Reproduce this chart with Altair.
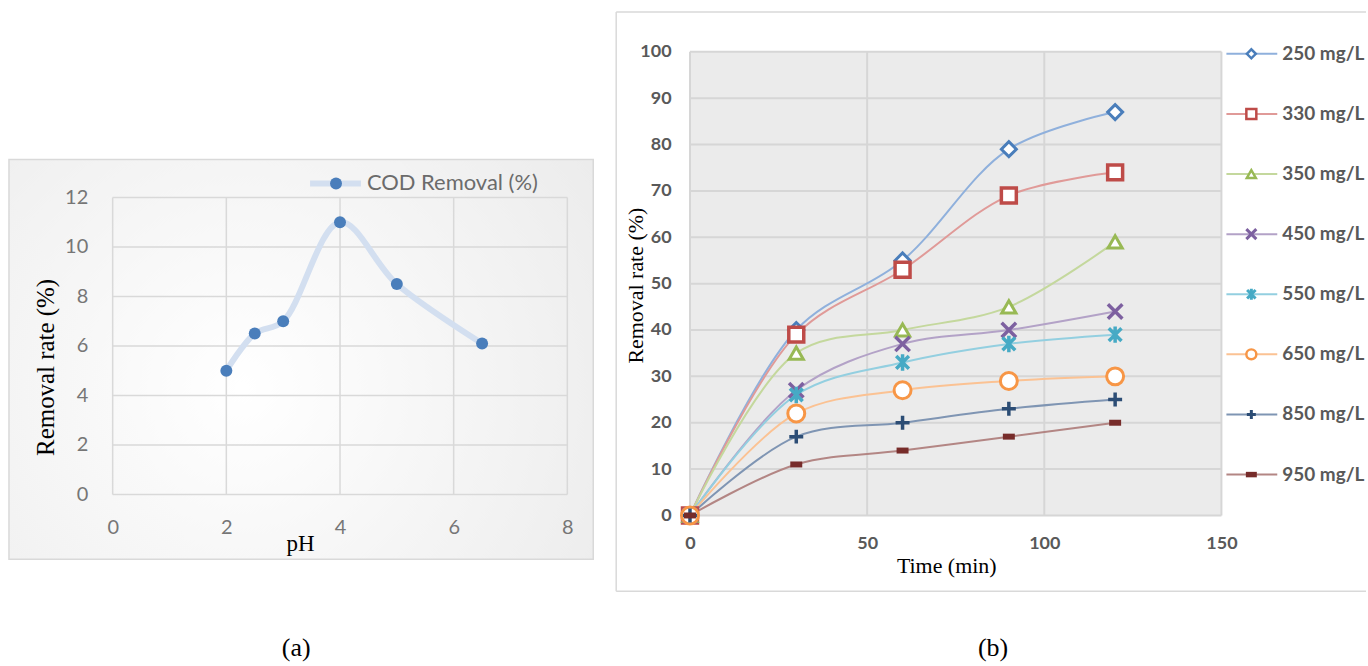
import altair as alt
import pandas as pd

# ---------------- Panel (a): COD removal vs pH ----------------
ph_values = [2, 2.5, 3, 4, 5, 6.5]
cod_removal = [5, 6.5, 7, 11, 8.5, 6.1]
a_x_ticks = [0, 2, 4, 6, 8]
a_y_ticks = [0, 2, 4, 6, 8, 10, 12]
a_series_name = "COD Removal (%)"
a_x_title = "pH"
a_y_title = "Removal rate (%)"
a_caption = "(a)"

# ---------------- Panel (b): removal rate vs time ----------------
time_min = [0, 30, 60, 90, 120]
conc_labels = ["250 mg/L", "330 mg/L", "350 mg/L", "450 mg/L",
               "550 mg/L", "650 mg/L", "850 mg/L", "950 mg/L"]
rate_250 = [0, 40, 55, 79, 87]
rate_330 = [0, 39, 53, 69, 74]
rate_350 = [0, 35, 40, 45, 59]
rate_450 = [0, 27, 37, 40, 44]
rate_550 = [0, 26, 33, 37, 39]
rate_650 = [0, 22, 27, 29, 30]
rate_850 = [0, 17, 20, 23, 25]
rate_950 = [0, 11, 14, 17, 20]
b_x_ticks = [0, 50, 100, 150]
b_y_ticks = [0, 10, 20, 30, 40, 50, 60, 70, 80, 90, 100]
b_x_title = "Time (min)"
b_y_title = "Removal rate (%)"
b_caption = "(b)"

# ---------------- styles ----------------
marker_colors = ["#4a7ebb", "#be4b48", "#98b954", "#7d60a0",
                 "#46aac5", "#f79646", "#2c4d75", "#772c2a"]
line_colors = ["#8fb0dc", "#e09a98", "#c4d89d", "#b3a2c7",
               "#93cfe0", "#fbc293", "#7f95b3", "#b38684"]
X_PATH = "M-1,-1L1,1M-1,1L1,-1"
AST_PATH = "M-0.85,-0.85L0.85,0.85M-0.85,0.85L0.85,-0.85M0,-1.1L0,1.1"
PLUS_PATH = "M-1,0L1,0M0,-1L0,1"
DASH_PATH = "M-1,-0.5L1,-0.5L1,0.5L-1,0.5Z"
shapes = ["diamond", "square", "triangle-up", X_PATH, AST_PATH, "circle", PLUS_PATH, DASH_PATH]
fills = ["white", "white", "white", "transparent", "transparent", "white", "transparent", "#772c2a"]
sizes = [225, 225, 200, 210, 225, 289, 196, 144]
stroke_ws = [3, 3.5, 3, 3.5, 3.5, 3, 3.5, 0]
leg_sizes = [81, 100, 81, 100, 100, 100, 81, 121]
leg_sw = [2.5, 2.5, 2.5, 3, 3, 2.5, 3, 0]

SANS = "Lato"
SERIF = "Liberation Serif"

one = pd.DataFrame({"k": [0]})

# ======================= Panel (a) =======================
# Panel (a) shares the row origin with panel (b); its plot occupies y 146..444 of a 465-high view
WA, HA = 456, 465
A_TOP, A_BOT = 146, 444
dfA = pd.DataFrame({"pH": ph_values, "cod": cod_removal})
sA_x = alt.Scale(domain=[0, 8], nice=False, zero=False)
sA_y = alt.Scale(domain=[0, 12], nice=False, range=[A_BOT, A_TOP])

axA = alt.Axis(values=a_x_ticks, grid=False, domain=False, ticks=False, zindex=1, labelFlush=False,
               labelFont=SANS, labelFontSize=20, labelColor="#767676", labelPadding=2,
               title=a_x_title, titleFont=SERIF, titleFontSize=23, titleFontWeight="normal",
               titleColor="black", titleX=188, titleY=28, titleAlign="center",
               titleBaseline="middle")
ayA = alt.Axis(values=a_y_ticks, grid=False, domain=False, ticks=False, zindex=1, labelFlush=False,
               labelFont=SANS, labelFontSize=20, labelColor="#767676", labelPadding=25,
               title=a_y_title, titleFont=SERIF, titleFontSize=25, titleFontWeight="normal",
               titleColor="black", titleX=-67, titleY=316, titleAngle=270,
               titleAlign="center", titleBaseline="middle")

a_spacer = alt.Chart(one).mark_rule(color="white", strokeWidth=1).encode(
    x=alt.value(-112), x2=alt.value(-111), y=alt.value(200))
grad = {"gradient": "radial", "x1": 0.4, "y1": 0.55, "x2": 0.4, "y2": 0.55,
        "r1": 0, "r2": 0.75,
        "stops": [{"offset": 0, "color": "#ffffff"}, {"offset": 1, "color": "#ebebeb"}]}
a_box = alt.Chart(one).mark_rect(fill=grad, stroke="#d9d9d9", strokeWidth=1.5).encode(
    x=alt.value(-104), x2=alt.value(482), y=alt.value(108), y2=alt.value(509))
a_gx = alt.Chart(pd.DataFrame({"v": a_x_ticks})).mark_rule(color="#d9d9d9", strokeWidth=1.5).encode(
    x=alt.X("v:Q", scale=sA_x, axis=axA), y=alt.value(A_TOP), y2=alt.value(A_BOT))
a_gy = alt.Chart(pd.DataFrame({"v": a_y_ticks})).mark_rule(color="#d9d9d9", strokeWidth=1.5).encode(
    y=alt.Y("v:Q", scale=sA_y, axis=ayA), x=alt.value(0), x2=alt.value(WA))
a_line = alt.Chart(dfA).mark_line(interpolate="catmull-rom", color="#d3dff0",
                                  strokeWidth=6, strokeCap="round").encode(
    x=alt.X("pH:Q", scale=sA_x, axis=axA), y=alt.Y("cod:Q", scale=sA_y, axis=ayA))
a_pts = alt.Chart(dfA).mark_circle(color="#4a7ebb", size=144, opacity=1).encode(
    x=alt.X("pH:Q", scale=sA_x, axis=axA), y=alt.Y("cod:Q", scale=sA_y, axis=ayA))
a_leg_line = alt.Chart(one).mark_rule(color="#d3dff0", strokeWidth=6).encode(
    x=alt.value(198), x2=alt.value(249), y=alt.value(132))
a_leg_pt = alt.Chart(one).mark_circle(color="#4a7ebb", size=144, opacity=1).encode(
    x=alt.value(224), y=alt.value(132))
a_leg_txt = alt.Chart(one).mark_text(text=a_series_name, align="left", baseline="middle",
                                     font=SANS, fontSize=22, color="#6b6b6b").encode(
    x=alt.value(255), y=alt.value(132))
a_cap = alt.Chart(one).mark_text(text=a_caption, font=SERIF, fontSize=26, color="black",
                                 baseline="middle").encode(x=alt.value(184), y=alt.value(598))

panel_a = alt.layer(a_spacer, a_box, a_gx, a_gy, a_line, a_pts,
                    a_leg_line, a_leg_pt, a_leg_txt, a_cap).properties(width=WA, height=HA)

# ======================= Panel (b) =======================
WB, HB = 533, 465
rates = [rate_250, rate_330, rate_350, rate_450, rate_550, rate_650, rate_850, rate_950]
rows = []
for lab, vals in zip(conc_labels, rates):
    for t, v in zip(time_min, vals):
        rows.append({"series": lab, "time": t, "rate": v})
dfB = pd.DataFrame(rows)
dfL = pd.DataFrame({"series": conc_labels})

sB_x = alt.Scale(domain=[0, 150], nice=False)
sB_y = alt.Scale(domain=[0, 100], nice=False)
line_scale = alt.Scale(domain=conc_labels, range=line_colors)

axB = alt.Axis(values=b_x_ticks, grid=False, domain=False, ticks=False, zindex=1, labelFlush=False,
               labelFont=SANS, labelFontSize=18, labelFontWeight="bold", labelColor="#595959",
               labelPadding=19, title=b_x_title, titleFont=SERIF, titleFontSize=22,
               titleFontWeight="normal", titleColor="black", titleX=257, titleY=50,
               titleAlign="center", titleBaseline="middle")
ayB = alt.Axis(values=b_y_ticks, grid=False, domain=False, ticks=False, zindex=1, labelFlush=False,
               labelFont=SANS, labelFontSize=18, labelFontWeight="bold", labelColor="#595959",
               labelPadding=19, title=b_y_title, titleFont=SERIF, titleFontSize=22,
               titleFontWeight="normal", titleColor="black", titleX=-55, titleY=234,
               titleAngle=270, titleAlign="center", titleBaseline="middle")

b_spacer = alt.Chart(one).mark_rule(color="white", strokeWidth=1).encode(
    x=alt.value(300), x2=alt.value(301), y=alt.value(-50))
b_top = alt.Chart(one).mark_rule(color="#d9d9d9", strokeWidth=1.5).encode(
    x=alt.value(-74), x2=alt.value(678), y=alt.value(-40))
b_bottom = alt.Chart(one).mark_rule(color="#d9d9d9", strokeWidth=1.5).encode(
    x=alt.value(-74), x2=alt.value(678), y=alt.value(541))
b_left = alt.Chart(one).mark_rule(color="#d9d9d9", strokeWidth=1.5).encode(
    x=alt.value(-74), y=alt.value(-40), y2=alt.value(541))
b_bg = alt.Chart(one).mark_rect(color="#ebebeb").encode(
    x=alt.value(0), x2=alt.value(WB), y=alt.value(0), y2=alt.value(HB))
b_gx = alt.Chart(pd.DataFrame({"v": b_x_ticks})).mark_rule(color="#d6d6d6", strokeWidth=2).encode(
    x=alt.X("v:Q", scale=sB_x, axis=axB))
b_gy = alt.Chart(pd.DataFrame({"v": b_y_ticks})).mark_rule(color="#d6d6d6", strokeWidth=2).encode(
    y=alt.Y("v:Q", scale=sB_y, axis=ayB))
b_lines = alt.Chart(dfB).mark_line(interpolate="catmull-rom", strokeWidth=2).encode(
    x=alt.X("time:Q", scale=sB_x, axis=axB),
    y=alt.Y("rate:Q", scale=sB_y, axis=ayB),
    color=alt.Color("series:N", scale=line_scale, legend=None))

b_pts = []
for i, lab in enumerate(conc_labels):
    b_pts.append(
        alt.Chart(dfB).transform_filter(alt.datum.series == lab)
        .mark_point(shape=shapes[i], size=sizes[i], stroke=marker_colors[i], fill=fills[i],
                    strokeWidth=stroke_ws[i], opacity=1)
        .encode(x=alt.X("time:Q", scale=sB_x, axis=axB),
                y=alt.Y("rate:Q", scale=sB_y, axis=ayB)))

b_cap = alt.Chart(one).mark_text(text=b_caption, font=SERIF, fontSize=26, color="black",
                                 baseline="middle").encode(x=alt.value(304), y=alt.value(598))

b_main = alt.layer(b_spacer, b_top, b_bottom, b_left, b_bg, b_gx, b_gy, b_lines, *b_pts, b_cap)

leg_y = alt.Scale(type="point", domain=conc_labels, range=[2, 424], padding=0)
leg_rules = alt.Chart(dfL).mark_rule(strokeWidth=2).encode(
    x=alt.value(538), x2=alt.value(589),
    y=alt.Y("series:N", scale=leg_y, axis=None),
    color=alt.Color("series:N", scale=line_scale, legend=None))
leg_pts = []
for i, lab in enumerate(conc_labels):
    leg_pts.append(
        alt.Chart(dfL).transform_filter(alt.datum.series == lab)
        .mark_point(shape=shapes[i], size=leg_sizes[i], stroke=marker_colors[i], fill=fills[i],
                    strokeWidth=leg_sw[i], opacity=1)
        .encode(x=alt.value(563), y=alt.Y("series:N", scale=leg_y, axis=None)))
leg_txt = alt.Chart(dfL).mark_text(align="left", baseline="middle", font=SANS, fontSize=19,
                                   fontWeight="bold", color="#595959").encode(
    x=alt.value(594), y=alt.Y("series:N", scale=leg_y, axis=None), text="series:N")
b_legend = alt.layer(leg_rules, *leg_pts, leg_txt)

panel_b = alt.layer(b_main, b_legend).resolve_scale(y="independent").properties(width=WB, height=HB)

chart = alt.hconcat(panel_a, panel_b, spacing=19).properties(
    padding=0, background="white").configure_view(stroke="transparent")

chart.save("out.html", embed_options={"renderer": "svg", "actions": False})
